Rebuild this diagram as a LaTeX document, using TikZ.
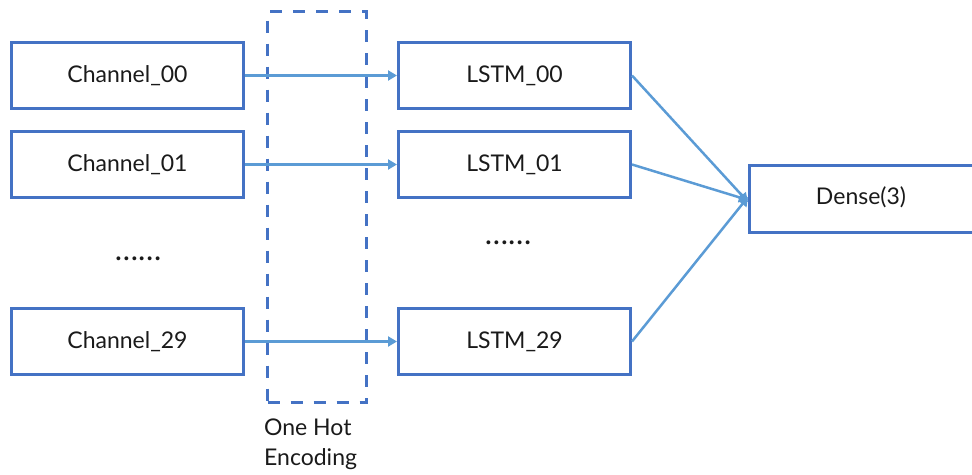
\documentclass[tikz,border=0pt]{standalone}
\usepackage{fontspec}
\setmainfont{Lato}
\usetikzlibrary{arrows.meta}
\definecolor{boxblue}{HTML}{4472C4}
\definecolor{arrowblue}{HTML}{5B9BD5}
\definecolor{ink}{HTML}{1A1A1A}
\begin{document}
\begin{tikzpicture}[x=1pt,y=-1pt,
  block/.style={draw=boxblue,line width=3pt,minimum width=232pt,minimum height=66pt,
    inner sep=0pt,anchor=north west,text=ink,font=\fontsize{23}{27}\selectfont},
  flow/.style={draw=arrowblue,line width=2.5pt,-{Triangle[length=9pt,width=10pt]}},
  dots/.style={text=ink,font=\fontsize{31}{35}\selectfont,inner sep=0pt}]
\useasboundingbox (0,0) rectangle (972,474);
% input channels
\node[block] (c00) at (10,41) {Channel\_00};
\node[block] (c01) at (10,130) {Channel\_01};
\node[block] (c29) at (10,307) {Channel\_29};
\node[dots] (cdots) at (138,259) {……};
% one-hot encoding stage
\node[draw=boxblue,line width=3pt,dash pattern=on 12pt off 11pt,minimum width=99pt,
  minimum height=391pt,inner sep=0pt,anchor=north west] (onehot) at (266,10) {};
\node[anchor=north west,align=left,text=ink,inner sep=0pt,
  font=\fontsize{23}{30}\selectfont] (ohlabel) at (264,419) {One Hot\\Encoding};
% recurrent layers
\node[block] (l00) at (397,41) {LSTM\_00};
\node[block] (l01) at (397,130) {LSTM\_01};
\node[block] (l29) at (397,307) {LSTM\_29};
\node[dots] (ldots) at (508,243) {……};
% output layer
\node[block,minimum width=240pt,minimum height=67pt] (dense) at (748,164) {};
\node[text=ink,font=\fontsize{23}{27}\selectfont,inner sep=0pt] (denselabel) at (861,197.5) {Dense(3)};
% connectors
\draw[flow] (c00.east) -- (l00.west);
\draw[flow] (c01.east) -- (l01.west);
\draw[flow] (c29.east) -- (l29.west);
\draw[flow] (l00.east) -- ([yshift=-3pt]dense.west);
\draw[flow] (l01.east) -- ([yshift=-1pt]dense.west);
\draw[flow] (l29.east) -- ([yshift=2pt]dense.west);
\end{tikzpicture}
\end{document}
